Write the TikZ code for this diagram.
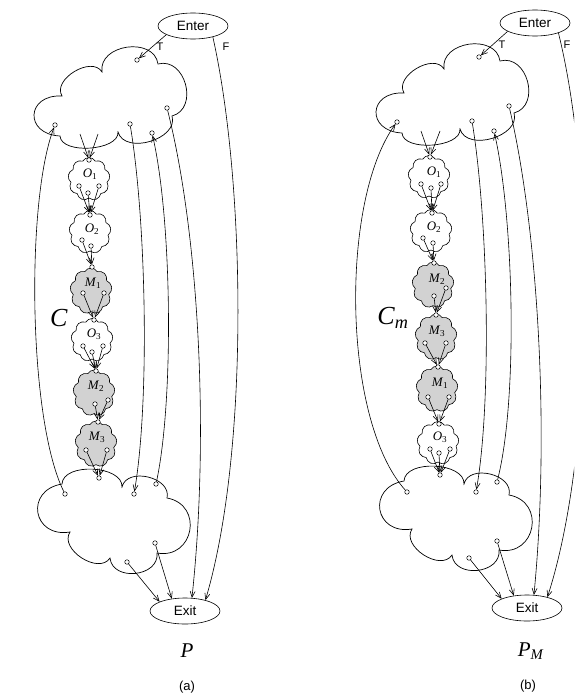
\documentclass[tikz,border=0pt]{standalone}
\usepackage{fontspec}
\setmainfont{Liberation Serif}
\newfontfamily\hv{Liberation Sans}
\usetikzlibrary{shapes.symbols,shapes.geometric,arrows.meta}
\newcommand\lab[2]{\textit{#1}\textsubscript{#2}}
\newcommand\topcloudpath{(60,136) to[lb=2.3] (62,96) to[lb=1.07] (102,72) to[lb=1.27] (158,64) to[lb=1.35] (172,116) to[lb=1.1] (118,132) to[lb=0.83] (60,136) -- cycle}
\newcommand\botcloudpath{(62,484) to[lb=0.93] (122,487) to[lb=1.17] (167,498) to[lb=1.72] (157,553) to[lb=1.3] (110,558) to[lb=1.1] (70,532) to[lb=2.0] (62,484) -- cycle}
\begin{document}
\begin{tikzpicture}[x=1pt,y=-1pt,line width=0.6pt,
  lb/.style={bend left=90,looseness=#1},
  cloudline/.style={draw,line width=0.7pt},
  blob/.style={draw,cloud,cloud puffs=9,cloud puff arc=120,minimum width=42pt,minimum height=43pt,inner sep=0pt},
  mblob/.style={blob,fill=gray!35,minimum height=46pt},
  port/.style={circle,draw,fill=white,inner sep=0pt,minimum size=4.5pt,line width=0.5pt},
  term/.style={ellipse,draw,minimum width=70pt,minimum height=26pt,inner sep=0pt,font=\hv\fontsize{13.5}{15}\selectfont},
  arr/.style={-{Straight Barb[length=6pt,width=5pt]}},
  lbl/.style={inner sep=0pt,font=\fontsize{13}{14}\selectfont},
  tf/.style={inner sep=0pt,font=\hv\fontsize{11}{12}\selectfont}]
\useasboundingbox (0,0) rectangle (574,696);
\clip (0,0) rectangle (574,696);

% ================= (a) =================
\draw[cloudline] \topcloudpath;
\draw[cloudline] \botcloudpath;
\node[term] (enA) at (193,26) {Enter};
\node[term] (exA) at (185,611) {Exit};
\node[tf] (tA) at (160,47) {T};
\node[tf] (fA) at (226,47) {F};

\node[blob]  (o1A) at (89,179) {};
\node[blob]  (o2A) at (90,232) {};
\node[mblob] (m1A) at (91,291) {};
\node[blob]  (o3A) at (92,340) {};
\node[mblob] (m2A) at (94,393) {};
\node[mblob] (m3A) at (96,444) {};
\node[lbl] (lo1A) at (90,174) {\lab{O}{1}};
\node[lbl] (lo2A) at (92,229) {\lab{O}{2}};
\node[lbl] (lm1A) at (93,283) {\lab{M}{1}};
\node[lbl] (lo3A) at (94,334) {\lab{O}{3}};
\node[lbl] (lm2A) at (96,386) {\lab{M}{2}};
\node[lbl] (lm3A) at (97,437) {\lab{M}{3}};
\node[inner sep=0pt,font=\fontsize{26}{28}\selectfont] (cA) at (59,318) {\textit{C}};
\node[inner sep=0pt,font=\fontsize{21}{23}\selectfont] (pA) at (187,651) {\textit{P}};
\node[inner sep=0pt,font=\hv\fontsize{13}{15}\selectfont] (capA) at (187,687) {(a)};

% ports top cloud (a)
\node[port] (ta1) at (137,60) {};
\node[port] (ta2) at (55,125) {};
\node[port] (ta3) at (130,124) {};
\node[port] (ta4) at (152,133) {};
\node[port] (ta5) at (167,108) {};
\coordinate (ts1A) at (80,134);
\coordinate (ts2A) at (98,134);
% ports bottom cloud (a)
\node[port] (ba1) at (65,494) {};
\node[port] (ba2) at (99,478) {};
\node[port] (ba3) at (134,494) {};
\node[port] (ba4) at (156,484) {};
\node[port] (ba5) at (155,543) {};
\node[port] (ba6) at (127,562) {};
% chain ports (a)
\node[port] (o1At) at (89,160) {};
\node[port] (o1Aa) at (79,186) {};
\node[port] (o1Ab) at (88,193) {};
\node[port] (o1Ac) at (99,186) {};
\node[port] (o2At) at (90,215) {};
\node[port] (o2Aa) at (82,240) {};
\node[port] (o2Ab) at (91,246) {};
\node[port] (m1At) at (92,267) {};
\node[port] (m1Aa) at (83,293) {};
\node[port] (m1Ab) at (104,293) {};
\node[port] (o3At) at (94,320) {};
\node[port] (o3Aa) at (83,346) {};
\node[port] (o3Ab) at (92,352) {};
\node[port] (o3Ac) at (103,346) {};
\node[port] (m2At) at (96,371) {};
\node[port] (m2Aa) at (95,404) {};
\node[port] (m2Ab) at (108,400) {};
\node[port] (m3At) at (98,422) {};
\node[port] (m3Aa) at (86,450) {};
\node[port] (m3Ab) at (107,450) {};

\draw[arr] (enA.198) -- (ta1);
\draw[arr] (ts1A) -- (o1At);
\draw[arr] (ts2A) -- (o1At);
\foreach \p in {o1Aa,o1Ab,o1Ac} \draw[arr] (\p) -- (o2At);
\foreach \p in {o2Aa,o2Ab} \draw[arr] (\p) -- (m1At);
\foreach \p in {m1Aa,m1Ab} \draw[arr] (\p) -- (o3At);
\foreach \p in {o3Aa,o3Ab,o3Ac} \draw[arr] (\p) -- (m2At);
\foreach \p in {m2Aa,m2Ab} \draw[arr] (\p) -- (m3At);
\foreach \p in {m3Aa,m3Ab} \draw[arr] (\p) -- (ba2);

\draw[arr] (ba1) .. controls (28,420) and (26,200) .. (ta2);
\draw[arr] (ta3) .. controls (146,220) and (150,400) .. (ba3);
\draw[arr] (ba4) .. controls (174,400) and (172,220) .. (ta4);
\draw[arr] (ta5) .. controls (198,230) and (210,430) .. (exA.62);
\draw[arr] (enA.331) .. controls (245,180) and (250,450) .. (exA.28);
\draw[arr] (ba6) -- (exA.160);
\draw[arr] (ba5) -- (exA.137);

% ================= (b) =================
\begin{scope}[shift={(342,-3)}]
\draw[cloudline] \topcloudpath;
\draw[cloudline] \botcloudpath;
\end{scope}
\node[term] (enB) at (535,23) {Enter};
\node[term] (exB) at (527,608) {Exit};
\node[tf] (tB) at (502,45) {T};
\node[tf] (fB) at (567,45) {F};

\node[blob]  (o1B) at (429,177) {};
\node[blob]  (o2B) at (431,231) {};
\node[mblob] (m2B) at (433,285) {};
\node[mblob] (m3B) at (436,337) {};
\node[mblob] (m1B) at (437,389) {};
\node[blob]  (o3B) at (438,443) {};
\node[lbl] (lo1B) at (434,172) {\lab{O}{1}};
\node[lbl] (lo2B) at (434,227) {\lab{O}{2}};
\node[lbl] (lm2B) at (437,279) {\lab{M}{2}};
\node[lbl] (lm3B) at (437,331) {\lab{M}{3}};
\node[lbl] (lm1B) at (440,383) {\lab{M}{1}};
\node[lbl] (lo3B) at (440,437) {\lab{O}{3}};
\node[inner sep=0pt,font=\fontsize{26}{28}\selectfont] (cB) at (393,318) {\textit{C}\textsubscript{\textit{m}}};
\node[inner sep=0pt,font=\fontsize{21}{23}\selectfont] (pB) at (531,651) {\textit{P}\textsubscript{\textit{M}}};
\node[inner sep=0pt,font=\hv\fontsize{13}{15}\selectfont] (capB) at (528,686) {(b)};

% ports top cloud (b)
\node[port] (tb1) at (479,57) {};
\node[port] (tb2) at (397,122) {};
\node[port] (tb3) at (472,121) {};
\node[port] (tb4) at (494,131) {};
\node[port] (tb5) at (509,106) {};
\coordinate (ts1B) at (421,131);
\coordinate (ts2B) at (440,131);
% ports bottom cloud (b)
\node[port] (bb1) at (407,492) {};
\node[port] (bb2) at (440,475) {};
\node[port] (bb3) at (476,492) {};
\node[port] (bb4) at (497,482) {};
\node[port] (bb5) at (497,541) {};
\node[port] (bb6) at (469,558) {};
% chain ports (b)
\node[port] (o1Bt) at (430,157) {};
\node[port] (o1Ba) at (421,184) {};
\node[port] (o1Bb) at (431,188) {};
\node[port] (o1Bc) at (441,184) {};
\node[port] (o2Bt) at (432,213) {};
\node[port] (o2Ba) at (423,238) {};
\node[port] (o2Bb) at (433,243) {};
\node[port] (m2Bt) at (434,263) {};
\node[port] (m2Ba) at (434,296) {};
\node[port] (m2Bb) at (446,288) {};
\node[port] (m3Bt) at (436,315) {};
\node[port] (m3Ba) at (425,343) {};
\node[port] (m3Bb) at (446,343) {};
\node[port] (m1Bt) at (438,367) {};
\node[port] (m1Ba) at (428,397) {};
\node[port] (m1Bb) at (449,397) {};
\node[port] (o3Bt) at (439,424) {};
\node[port] (o3Ba) at (430,449) {};
\node[port] (o3Bb) at (439,453) {};
\node[port] (o3Bc) at (450,449) {};

\draw[arr] (enB.197) -- (tb1);
\draw[arr] (ts1B) -- (o1Bt);
\draw[arr] (ts2B) -- (o1Bt);
\foreach \p in {o1Ba,o1Bb,o1Bc} \draw[arr] (\p) -- (o2Bt);
\foreach \p in {o2Ba,o2Bb} \draw[arr] (\p) -- (m2Bt);
\foreach \p in {m2Ba,m2Bb} \draw[arr] (\p) -- (m3Bt);
\foreach \p in {m3Ba,m3Bb} \draw[arr] (\p) -- (m1Bt);
\foreach \p in {m1Ba,m1Bb} \draw[arr] (\p) -- (o3Bt);
\foreach \p in {o3Ba,o3Bb,o3Bc} \draw[arr] (\p) -- (bb2);

\draw[arr] (bb1) .. controls (342,420) and (340,200) .. (tb2);
\draw[arr] (tb3) .. controls (488,220) and (492,400) .. (bb3);
\draw[arr] (bb4) .. controls (518,400) and (514,220) .. (tb4);
\draw[arr] (tb5) .. controls (538,230) and (550,430) .. (exB.62);
\draw[arr] (enB.337) .. controls (595,180) and (595,450) .. (exB.28);
\draw[arr] (bb6) -- (exB.160);
\draw[arr] (bb5) -- (exB.137);
\end{tikzpicture}
\end{document}
